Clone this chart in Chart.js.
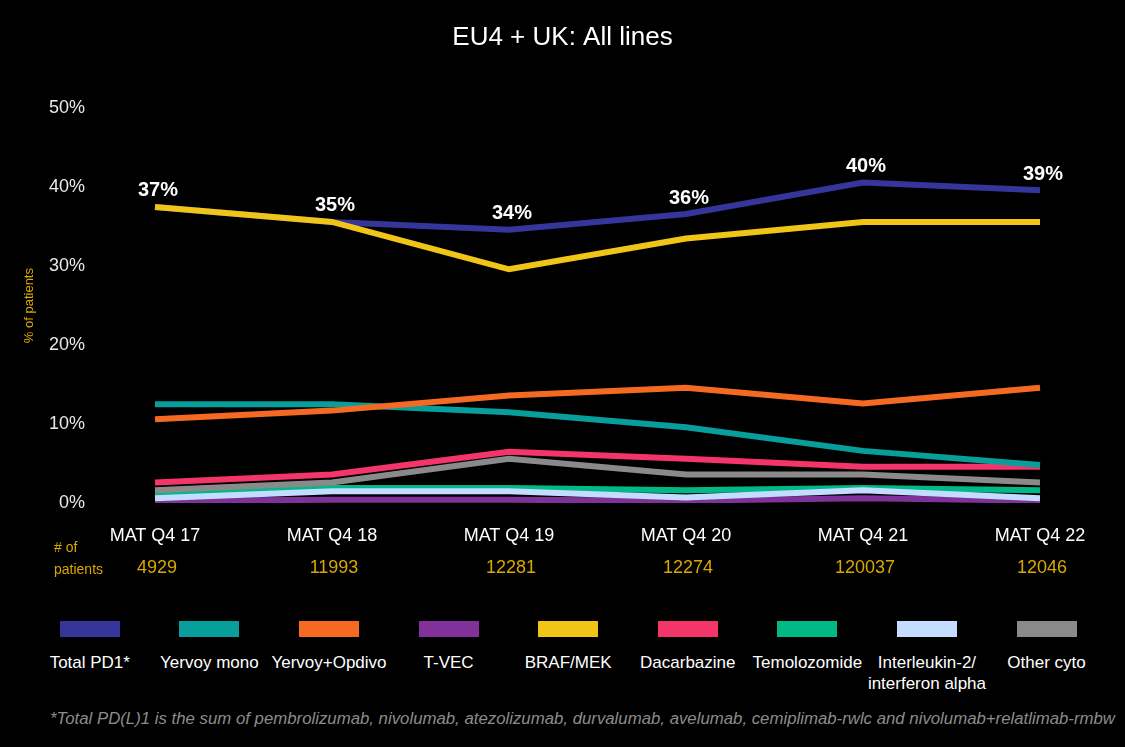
<!DOCTYPE html>
<html>
<head>
<meta charset="utf-8">
<script src="https://cdn.jsdelivr.net/npm/chart.js@4"></script>
<style>
    body { margin: 0; background: #000; width: 1125px; height: 747px; overflow: hidden;
           font-family: 'Liberation Sans', Arial, sans-serif; }
    #wrap { position: absolute; left: 0; top: 0; width: 1125px; height: 590px; }
    #legend { position: absolute; left: 30px; top: 621px; display: flex; }
    .item { width: 119.6px; text-align: center; color: #fff; font-size: 17px; line-height: 21px; white-space: nowrap; }
    .swatch { width: 60px; height: 16px; margin: 0 auto 15px auto; }
    #note { position: absolute; left: 50px; top: 709px; color: #8c8c8c; font-style: italic; font-size: 16.8px; white-space: nowrap; }
</style>
</head>
<body>
<div id="wrap"><canvas id="chart" width="1125" height="590"></canvas></div>
<div id="legend"></div>
<div id="note">*Total PD(L)1 is the sum of pembrolizumab, nivolumab, atezolizumab, durvalumab, avelumab, cemiplimab-rwlc and nivolumab+relatlimab-rmbw</div>
<script>
// Chart data
const periods = ['MAT Q4 17', 'MAT Q4 18', 'MAT Q4 19', 'MAT Q4 20', 'MAT Q4 21', 'MAT Q4 22'];
const patientCounts = ['4929', '11993', '12281', '12274', '120037', '12046'];
const yTicks = [0, 10, 20, 30, 40, 50];

const totalPD1 = [37.5, 35.6, 34.6, 36.6, 40.6, 39.6];
const yervoyMono = [12.5, 12.5, 11.5, 9.6, 6.6, 4.8];
const yervoyOpdivo = [10.6, 11.7, 13.6, 14.6, 12.6, 14.6];
const tvec = [0.3, 0.4, 0.4, 0.3, 0.6, 0.3];
const brafMek = [37.5, 35.6, 29.6, 33.5, 35.6, 35.6];
const dacarbazine = [2.6, 3.6, 6.5, 5.6, 4.6, 4.6];
const temolozomide = [1.2, 1.9, 1.9, 1.6, 1.9, 1.6];
const interleukin = [0.6, 1.5, 1.5, 0.7, 1.6, 0.6];
const otherCyto = [1.6, 2.6, 5.6, 3.6, 3.6, 2.6];

const FONT = "'Liberation Sans', Arial, sans-serif";
const GOLD = '#d9a800';

// name, data, colour, draw order (lower = on top)
const series = [
    ['Total PD1*', totalPD1, '#35359a', 1],
    ['Yervoy mono', yervoyMono, '#079e9b', 3],
    ['Yervoy+Opdivo', yervoyOpdivo, '#f46a23', 2],
    ['T-VEC', tvec, '#80319a', 8],
    ['BRAF/MEK', brafMek, '#f0c518', 0],
    ['Dacarbazine', dacarbazine, '#f3356a', 4],
    ['Temolozomide', temolozomide, '#00b984', 7],
    ['Interleukin-2/<br>interferon alpha', interleukin, '#c4dcff', 6],
    ['Other cyto', otherCyto, '#8a8a8a', 5]
];

/**
 * Percent labels above Total PD1 + patient counts under the x axis
 */
const extrasPlugin = {
    id: 'extras',
    afterDatasetsDraw(chart) {
        const ctx = chart.ctx;
        const meta = chart.getDatasetMeta(0);
        ctx.save();
        ctx.fillStyle = '#fff';
        ctx.font = `bold 20px ${FONT}`;
        ctx.textAlign = 'center';
        ctx.textBaseline = 'bottom';
        meta.data.forEach((pt, i) => {
            ctx.fillText(Math.floor(totalPD1[i]) + '%', pt.x + 3, pt.y - 6);
        });

        const x = chart.scales.x;
        ctx.font = `18px ${FONT}`;
        ctx.fillStyle = GOLD;
        ctx.textBaseline = 'middle';
        patientCounts.forEach((c, i) => {
            ctx.fillText(c, x.getPixelForValue(i) + 2, 568);
        });
        ctx.font = `14px ${FONT}`;
        ctx.textAlign = 'left';
        ctx.fillText('# of', 54, 548);
        ctx.fillText('patients', 54, 570);
        ctx.restore();
    }
};

new Chart(document.getElementById('chart'), {
    type: 'line',
    data: {
        labels: periods,
        datasets: series.map(([name, data, color, order]) => ({
            label: name,
            data: data,
            borderColor: color,
            backgroundColor: color,
            borderWidth: 6,
            pointRadius: 0,
            tension: 0,
            order: order
        }))
    },
    options: {
        responsive: false,
        animation: false,
        devicePixelRatio: 1,
        layout: { padding: 0 },
        scales: {
            x: {
                offset: false,
                grid: { display: false, drawTicks: false },
                border: { display: false },
                ticks: { color: '#fff', font: { family: FONT, size: 18 }, padding: 22, autoSkip: false, maxRotation: 0 },
                afterFit: (scale) => { scale.height = 87; }
            },
            y: {
                min: 0,
                max: 50,
                grid: { display: false, drawTicks: false },
                border: { display: false },
                afterBuildTicks: (scale) => { scale.ticks = yTicks.map(v => ({ value: v })); },
                ticks: {
                    color: '#e8e8e8',
                    font: { family: FONT, size: 18 },
                    padding: 70,
                    callback: (v) => v + '%'
                },
                title: {
                    display: true,
                    text: '% of patients',
                    color: GOLD,
                    font: { family: FONT, size: 13 },
                    padding: { top: 22, bottom: 0 }
                },
                afterFit: (scale) => { scale.width = 155; }
            },
            // empty right axis, only reserves the right margin
            yRight: {
                position: 'right',
                grid: { display: false, drawTicks: false },
                border: { display: false },
                ticks: { display: false },
                afterFit: (scale) => { scale.width = 85; }
            }
        },
        plugins: {
            legend: { display: false },
            tooltip: { enabled: false },
            title: {
                display: true,
                text: 'EU4 + UK: All lines',
                color: '#fff',
                font: { family: FONT, size: 26, weight: 'normal' },
                padding: { top: 22, bottom: 55 }
            }
        }
    },
    plugins: [extrasPlugin]
});

// HTML legend built from the series list
document.getElementById('legend').innerHTML = series.map(([name, , color]) => `
    <div class="item">
        <div class="swatch" style="background:${color}"></div>
        ${name}
    </div>
`).join('');
</script>
</body>
</html>
